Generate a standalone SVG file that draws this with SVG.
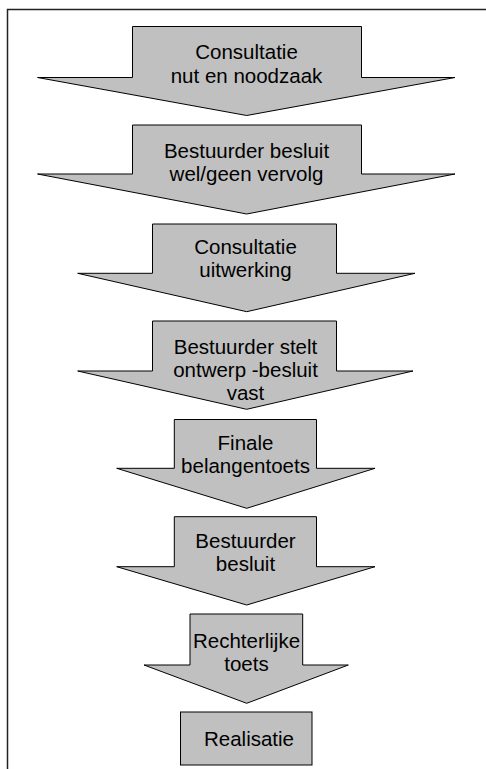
<svg xmlns="http://www.w3.org/2000/svg" width="486" height="769" viewBox="0 0 486 769">
<style>
.shape{fill:#c0c0c0;stroke:#000;stroke-width:1;stroke-linejoin:miter}
.lbl{font-family:"Liberation Sans",Arial,sans-serif;font-size:20.5px;fill:#000;text-anchor:middle}
.frame{fill:none;stroke:#222;stroke-width:1.5}
</style>
<rect width="486" height="769" fill="#fff"/>
<rect class="frame" x="7.5" y="9.5" width="490" height="770"/>
<g id="connectors"/>
<g id="n1">
<polygon class="shape" points="132.5,26.5 361.5,26.5 361.5,77.5 455,77.5 246.7,115.5 37.5,77.5 132.5,77.5"/>
<text class="lbl" x="246.5" y="59">Consultatie</text>
<text class="lbl" x="246.5" y="83">nut en noodzaak</text>
</g>
<g id="n2">
<polygon class="shape" points="132.5,125 361.5,125 361.5,174 455,174 246.7,214 37.5,174 132.5,174"/>
<text class="lbl" x="246.5" y="158">Bestuurder besluit</text>
<text class="lbl" x="246.5" y="181">wel/geen vervolg</text>
</g>
<g id="n3">
<polygon class="shape" points="152.5,224 336.5,224 336.5,273.3 415,273.3 246.7,311.7 77.7,273.3 152.5,273.3"/>
<text class="lbl" x="245.5" y="254">Consultatie</text>
<text class="lbl" x="245.5" y="277">uitwerking</text>
</g>
<g id="n4">
<polygon class="shape" points="152.5,321 336.5,321 336.5,371 413,371 246.7,409.3 77.7,371 152.5,371"/>
<text class="lbl" x="245.5" y="354">Bestuurder stelt</text>
<text class="lbl" x="245.5" y="377">ontwerp -besluit</text>
<text class="lbl" x="245.5" y="400">vast</text>
</g>
<g id="n5">
<polygon class="shape" points="174.3,419.5 316.5,419.5 316.5,468.3 375,468.3 246.7,508.3 116.7,468.3 174.3,468.3"/>
<text class="lbl" x="245.5" y="450">Finale</text>
<text class="lbl" x="245.5" y="473">belangentoets</text>
</g>
<g id="n6">
<polygon class="shape" points="174.3,516.7 316.5,516.7 316.5,566.7 375,566.7 246.7,605 116.7,566.7 174.3,566.7"/>
<text class="lbl" x="245.5" y="548">Bestuurder</text>
<text class="lbl" x="245.5" y="571">besluit</text>
</g>
<g id="n7">
<polygon class="shape" points="190,614 302.7,614 302.7,665 348.3,665 246.7,703.3 144,665 190,665"/>
<text class="lbl" x="246.5" y="648">Rechterlijke</text>
<text class="lbl" x="246.5" y="671">toets</text>
</g>
<g id="n8">
<rect class="shape" x="180.5" y="712" width="131.5" height="53"/>
<text class="lbl" x="249" y="746">Realisatie</text>
</g>
</svg>
